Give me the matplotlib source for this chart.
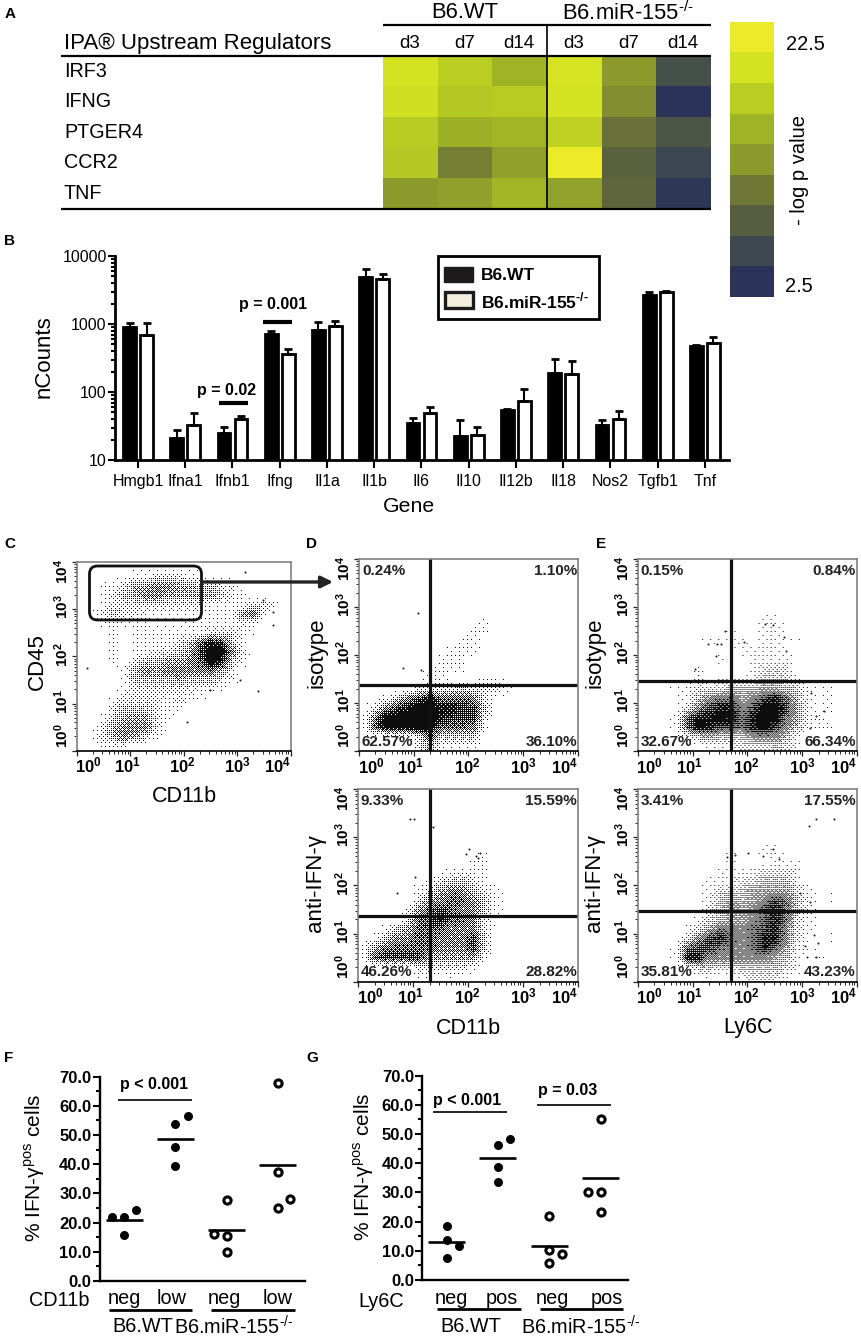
#!/usr/bin/env python3
"""Multi panel figure: IPA heatmap, nCounts bars, flow plots, IFN-gamma dot plots"""

import numpy as np
import matplotlib
matplotlib.use("Agg")
import matplotlib.pyplot as plt
from matplotlib.colors import LinearSegmentedColormap
from matplotlib.patches import FancyBboxPatch, Rectangle

plt.rcParams['font.family'] = ['Liberation Sans', 'DejaVu Sans']
plt.rcParams['mathtext.fontset'] = 'custom'
plt.rcParams['mathtext.rm'] = 'Liberation Sans'
plt.rcParams['mathtext.bf'] = 'Liberation Sans:bold'

W, H = 862, 1339

# --- panel A
regulators = ["IRF3", "IFNG", "PTGER4", "CCR2", "TNF"]
days = ["d3", "d7", "d14", "d3", "d7", "d14"]
irf3 = [20.0, 17.5, 15.1, 20.3, 12.5, 6.0]
ifng = [19.7, 17.0, 17.4, 20.0, 11.7, 2.6]
ptger4 = [17.3, 14.8, 15.3, 18.2, 9.6, 6.6]
ccr2 = [17.0, 10.7, 13.2, 22.5, 8.0, 4.8]
tnf = [12.5, 13.2, 15.3, 13.3, 8.3, 3.1]
scale_values = [22.5, 20.0, 17.5, 15.0, 12.5, 10.0, 7.5, 5.0, 2.5]
scale_colors = ["#2c335a", "#3d4850", "#575e41", "#6f7637", "#8c9a2c",
                "#9eb326", "#bacd22", "#d3e221", "#ebeb2a"]

# --- panel B
genes = ["Hmgb1", "Ifna1", "Ifnb1", "Ifng", "Il1a", "Il1b", "Il6", "Il10",
         "Il12b", "Il18", "Nos2", "Tgfb1", "Tnf"]
wt_counts = [912, 20.8, 25.2, 721, 807, 4900, 35, 22.3, 55, 188, 33, 2700, 474]
wt_upper = [1035, 27.6, 30.5, 789, 1082, 6516, 41.5, 38.3, 56.5, 305, 38.3, 2985, 490]
ko_counts = [689, 32.7, 39.6, 358, 924, 4642, 49, 23.6, 73.8, 182, 40, 2953, 525]
ko_upper = [1035, 48.5, 44.9, 429, 1096, 5433, 59.5, 30.5, 109, 286, 52.7, 3020, 645]

# --- flow panels: dot density read per 0.2 decade cell (top row first, 0 empty, 9 solid)
density_c = [
    "00000000000000000000",
    "00000112221100000000",
    "00112445544332100000",
    "00123455444443210000",
    "00122222222211112310",
    "01232211111111146100",
    "00111110001111121000",
    "00010111111122211000",
    "00010111123687310000",
    "00010112234799520000",
    "00010233445698310000",
    "00001454555564200000",
    "00001333343332100000",
    "00001222222111000000",
    "00012222121100000000",
    "00023332110000000000",
    "00134442100000000000",
    "00245552000000000000",
    "01245421000000000000",
    "00111000000000000000",
]
density_d_iso = [
    "00000000000000000000",
    "00000000000000000000",
    "00000000000000000000",
    "00000000000000000000",
    "00000000000000000000",
    "00000000000000000000",
    "00000000000100000000",
    "00000000001100000000",
    "00000000011000000000",
    "00000000111000000000",
    "00000001110000000000",
    "00000011110000000000",
    "00000011000110000000",
    "00000122232221000000",
    "00135786665200000000",
    "02578998877300000000",
    "15999998777200000000",
    "17999996665100000000",
    "00000363333000000000",
    "00000241111000000000",
]
density_e_iso = [
    "00000000000000000000",
    "00000000000000000000",
    "00000000000000000000",
    "00000000000000000000",
    "00000000000000000000",
    "00000000000000000000",
    "00000000000110000000",
    "00000000100110000000",
    "00000011010110100000",
    "00000000011110000000",
    "00000001001111000000",
    "00000100001222000000",
    "00000101111332100000",
    "00011222333443210100",
    "00001356645786310100",
    "00002578857997410100",
    "00016889868996411000",
    "00016987768975311100",
    "00001343335553100000",
    "00000011122232100000",
]
density_d_ifn = [
    "00000000000000000000",
    "00000000000000000000",
    "00000000000000000000",
    "00000000000000000000",
    "00000000000000000000",
    "00000000000000000000",
    "00000000000100000000",
    "00000000001100000000",
    "00000000111100000000",
    "00000012332100000000",
    "00000124553210000000",
    "00000245665310000000",
    "00001467655310000000",
    "00002678665210000000",
    "00134666555200000000",
    "01355665557300000000",
    "14666665557300000000",
    "16777744444100000000",
    "00000222221000000000",
    "00000110100000000000",
]
density_e_ifn = [
    "00000000000000000000",
    "00000000000000000000",
    "00000000000000000000",
    "00000000000000000000",
    "00000000000000000000",
    "00000000000000000000",
    "00000000100110000000",
    "00000000100010100000",
    "00000001011222100000",
    "00000011122333100000",
    "00000012234444210000",
    "00000013434576310100",
    "00000023545786310000",
    "00000123445686210000",
    "00001246556785210000",
    "00002578656885200100",
    "00016776556864110000",
    "00018855555543101000",
    "00001332233332100000",
    "00000010112221000000",
]

# isolated events, log10 units
stray_c_x = [0.19, 3.05, 3.38, 2.06, 3.66, 3.66, 3.15, 2.49, 3.49]
stray_c_y = [1.75, 1.50, 1.27, 0.60, 2.93, 2.67, 3.79, 1.29, 3.19]
stray_d_iso_x = [1.08, 0.81, 1.14]
stray_d_iso_y = [2.87, 1.73, 1.69]
stray_e_iso_x = [1.59, 1.29, 1.44, 1.52, 1.43, 1.05, 2.66, 2.70, 1.93, 3.17, 3.39, 3.26, 3.14, 2.32, 2.46]
stray_e_iso_y = [2.51, 2.23, 2.23, 2.23, 1.97, 1.70, 2.37, 2.09, 2.28, 1.20, 0.83, 0.72, 0.47, 2.65, 2.63]
stray_d_ifn_x = [0.95, 1.02, 1.37, 1.96, 2.02, 2.15, 2.21, 2.19, 0.70, 1.03]
stray_d_ifn_y = [3.38, 3.38, 3.22, 2.66, 2.75, 2.61, 2.68, 2.56, 1.84, 2.18]
stray_e_ifn_x = [3.26, 3.58, 3.13, 2.47, 2.57, 1.78, 2.02, 2.29, 1.62, 3.22, 3.29, 3.05, 3.08, 3.26, 3.14, 2.96]
stray_e_ifn_y = [3.38, 3.38, 3.24, 2.75, 2.54, 2.64, 2.68, 2.61, 2.59, 0.96, 0.80, 0.75, 0.52, 0.52, 1.65, 1.85]

# --- panels F and G
f_wt_neg = [22.0, 22.0, 24.3, 15.6]
f_wt_low = [53.8, 56.5, 46.0, 39.3]
f_ko_neg = [27.9, 16.0, 15.5, 10.0]
f_ko_low = [67.8, 37.5, 28.1, 25.1]
f_means = [20.9, 48.8, 17.4, 39.6]
f_swarm = [[-0.24, 0, 0.24, 0], [0, 0.24, 0, 0], [0, -0.24, 0, 0], [0, 0, 0.24, 0]]

g_wt_neg = [18.6, 13.7, 11.8, 7.7]
g_wt_pos = [46.4, 48.2, 38.8, 33.6]
g_ko_neg = [21.9, 10.3, 8.9, 5.7]
g_ko_pos = [55.2, 30.1, 30.1, 23.4]
g_means = [12.9, 41.8, 11.6, 34.8]
g_swarm = [[0, 0, 0.24, 0], [0, 0.24, 0, 0], [0, 0, 0.24, 0], [0, -0.24, 0, 0]]

# ordered dither, turns a density read above into fine dots when shown
BAYER = np.array([[0, 32, 8, 40, 2, 34, 10, 42],
                  [48, 16, 56, 24, 50, 18, 58, 26],
                  [12, 44, 4, 36, 14, 46, 6, 38],
                  [60, 28, 52, 20, 62, 30, 54, 22],
                  [3, 35, 11, 43, 1, 33, 9, 41],
                  [51, 19, 59, 27, 49, 17, 57, 25],
                  [15, 47, 7, 39, 13, 45, 5, 37],
                  [63, 31, 55, 23, 61, 29, 53, 21]]) / 64.0 + 1 / 128.0


def ax_px(fig, x0, y0, x1, y1):
    # axes from pixel box, y counted from the top of the picture
    return fig.add_axes([x0 / W, 1 - y1 / H, (x1 - x0) / W, (y1 - y0) / H])


fig = plt.figure(figsize=(W / 100, H / 100), dpi=100, facecolor='white')

canvas = fig.add_axes([0, 0, 1, 1], zorder=10)
canvas.set_xlim(0, W)
canvas.set_ylim(H, 0)
canvas.axis('off')
canvas.patch.set_alpha(0)


def put(x, y, s, size=12, ha='center', va='center', **kw):
    canvas.text(x, y, s, fontsize=size, ha=ha, va=va, **kw)


def hline(x0, x1, y, lw=2.0, color='black'):
    canvas.plot([x0, x1], [y, y], color=color, lw=lw, solid_capstyle='butt')


for letter, lx, ly in [("A", 10, 14), ("B", 10, 241), ("C", 10, 544), ("D", 312, 544),
                       ("E", 601, 544), ("F", 9, 1058), ("G", 312, 1058)]:
    put(lx, ly, letter, size=11, fontweight='bold')

# ---------- A: heatmap
heat_cmap = LinearSegmentedColormap.from_list("heat", scale_colors)
ax = ax_px(fig, 383, 56, 711, 208)
ax.imshow(np.array([irf3, ifng, ptger4, ccr2, tnf]), cmap=heat_cmap, vmin=2.5, vmax=22.5,
          aspect='auto', interpolation='nearest')
ax.axis('off')
for i, day in enumerate(days):
    put(409.6 + 54.7 * i, 44, day, size=13.5)
for i, reg in enumerate(regulators):
    put(64, 71.5 + 30.4 * i, reg, size=14.2, ha='left')
put(64, 43, "IPA® Upstream Regulators", size=16, ha='left')
put(464.5, 13, "B6.WT", size=15.8)
put(628, 13, "B6.miR-155$^{\\mathregular{\u2010/\u2010}}$", size=15.8)
hline(383, 711, 24.5, lw=1.6)
hline(61, 711, 55.5, lw=1.6)
hline(61, 711, 208.5, lw=1.6)
canvas.plot([547, 547], [25, 208], color='black', lw=1.2)

ax = ax_px(fig, 729.5, 22, 773, 297)
ax.imshow(np.array(scale_values).reshape(-1, 1), cmap=heat_cmap, vmin=2.5, vmax=22.5,
          aspect='auto', interpolation='nearest')
ax.axis('off')
put(786, 45, "22.5", size=14.4, ha='left')
put(785, 287, "2.5", size=14.4, ha='left')
put(800, 170, "- log p value", size=14.5, rotation=90)

# ---------- B: bars
ax = ax_px(fig, 115, 256, 729, 460)
pos = np.arange(len(genes))
wt_err = [np.zeros(len(genes)), np.array(wt_upper) - np.array(wt_counts)]
ko_err = [np.zeros(len(genes)), np.array(ko_upper) - np.array(ko_counts)]
ax.bar(pos - 0.18, wt_counts, 0.27, color='black', edgecolor='black', linewidth=2,
       yerr=wt_err, ecolor='black', capsize=3.2, error_kw=dict(elinewidth=1.5, capthick=2))
ax.bar(pos + 0.18, ko_counts, 0.27, color='white', edgecolor='black', linewidth=2,
       yerr=ko_err, ecolor='black', capsize=3.2, error_kw=dict(elinewidth=1.5, capthick=2))
ax.set_yscale('log')
ax.set_ylim(10, 10000)
ax.set_xlim(-0.487, 12.51)
ax.set_xticks(pos)
ax.set_xticklabels(genes, fontsize=11.5)
ax.set_yticks([10, 100, 1000, 10000])
ax.set_yticklabels(["10", "100", "1000", "10000"], fontsize=11.5)
ax.tick_params(axis='x', length=6, width=1.5, pad=4)
ax.tick_params(axis='y', which='major', length=5, width=1.5, pad=1)
ax.tick_params(axis='y', which='minor', length=3, width=1.5)
for side in ['top', 'right']:
    ax.spines[side].set_visible(False)
for side in ['left', 'bottom']:
    ax.spines[side].set_linewidth(2)
put(44.5, 357, "nCounts", size=16, rotation=90)
put(408.6, 507, "Gene", size=15.3)
put(272.7, 305, "p = 0.001", size=11.5, fontweight='bold')
hline(263.5, 292.5, 321.7, lw=3)
put(226.8, 390, "p = 0.02", size=11.5, fontweight='bold')
hline(219.5, 248.4, 403, lw=3)

canvas.add_patch(Rectangle((438.5, 256), 160.5, 63, fc='white', ec='black', lw=2))
canvas.add_patch(Rectangle((444, 267), 29, 15, fc='#1c1a1b', ec='#1c1a1b', lw=1))
canvas.add_patch(Rectangle((445, 292), 28, 16, fc='#f2efdf', ec='#1c1a1b', lw=2.4))
put(481, 275, "B6.WT", size=12.5, ha='left', fontweight='bold')
put(481, 301, "B6.miR-155$^{\\mathbf{\u2010/\u2010}}$", size=12.5, ha='left', fontweight='bold')


# ---------- C, D, E: flow plots
def decade_ticks():
    return [np.log10(k * 10.0 ** d) for d in range(4) for k in range(2, 10)]


def stipple(density, nx, ny):
    # resample the read density to screen pixels, then dither to black and white
    grid = np.array([[int(c) for c in row] for row in density], dtype=float)
    cx = (np.arange(grid.shape[1]) + 0.5) / grid.shape[1]
    cy = (np.arange(grid.shape[0]) + 0.5) / grid.shape[0]
    px = (np.arange(nx) + 0.5) / nx
    py = (np.arange(ny) + 0.5) / ny
    rows = np.array([np.interp(px, cx, r) for r in grid])
    fine = np.array([np.interp(py, cy, c) for c in rows.T]).T
    level = np.clip(fine / 8.5, 0, 1) ** 1.45
    tile = np.tile(BAYER, (ny // 8 + 1, nx // 8 + 1))[:ny, :nx]
    return level > tile


def flow_panel(box, density, stray_x, stray_y, gate_x=None, gate_y=None, percents=None):
    x0, y0, x1, y1 = box
    ax = ax_px(fig, x0, y0, x1, y1)
    dots = stipple(density, int(round(x1 - x0)), int(round(y1 - y0)))
    ax.imshow(dots, extent=[0, 4, 0, 4], cmap='Greys', vmin=0, vmax=1.05, aspect='auto',
              interpolation='antialiased', origin='upper')
    ax.scatter(stray_x, stray_y, s=2.2, color='#222222', linewidths=0)
    ax.set_xlim(0, 4)
    ax.set_ylim(0, 4)
    ax.set_xticks(range(5))
    ax.set_yticks(range(5))
    ax.set_xticks(decade_ticks(), minor=True)
    ax.set_yticks(decade_ticks(), minor=True)
    ax.set_xticklabels([])
    ax.set_yticklabels([])
    ax.tick_params(which='major', length=3.5, width=0.9, color='#222222')
    ax.tick_params(which='minor', length=2, width=0.7, color='#222222')
    for side in ['top', 'right', 'left']:
        ax.spines[side].set_color('#808080')
        ax.spines[side].set_linewidth(1.2)
    ax.spines['bottom'].set_linewidth(1.2)
    if gate_x is not None:
        ax.axvline(gate_x, color='#111111', lw=2.3)
        ax.axhline(gate_y, color='#111111', lw=2.3)
    # decade labels sit a little inside at both ends of the axis
    w = (x1 - x0) / 4.0
    h = (y1 - y0) / 4.0
    for d, off in enumerate([12, -3, -1, 0, -13]):
        put(x0 + d * w + off, y1 + 15, "$\\mathbf{10^{%d}}$" % d, size=12)
    for d, off in enumerate([15, 2, 2, 2, -10]):
        put(x0 - 15, y1 - d * h - off, "$\\mathbf{10^{%d}}$" % d, size=11, rotation=90)
    if percents:
        ul, ur, ll, lr = percents
        put(x0 + 3, y0 + 12, ul, size=11, ha='left', fontweight='bold', color='#222222')
        put(x1 - 1, y0 + 12, ur, size=11, ha='right', fontweight='bold', color='#222222')
        put(x0 + 3, y1 - 9.5, ll, size=11, ha='left', fontweight='bold', color='#222222')
        put(x1 - 1, y1 - 9.5, lr, size=11, ha='right', fontweight='bold', color='#222222')


flow_panel((76.7, 562, 290.7, 750.7), density_c, stray_c_x, stray_c_y)
flow_panel((359, 559, 578, 751), density_d_iso, stray_d_iso_x, stray_d_iso_y, 1.30, 1.38,
           ["0.24%", "1.10%", "62.57%", "36.10%"])
flow_panel((637.7, 559, 857, 751), density_e_iso, stray_e_iso_x, stray_e_iso_y, 1.70, 1.46,
           ["0.15%", "0.84%", "32.67%", "66.34%"])
flow_panel((358, 789, 578, 981.7), density_d_ifn, stray_d_ifn_x, stray_d_ifn_y, 1.30, 1.37,
           ["9.33%", "15.59%", "46.26%", "28.82%"])
flow_panel((637.7, 789, 857, 981.7), density_e_ifn, stray_e_ifn_x, stray_e_ifn_y, 1.70, 1.46,
           ["3.41%", "17.55%", "35.81%", "43.23%"])

put(37, 662, "CD45", size=16, rotation=90)
put(184, 797, "CD11b", size=15.5)
put(317, 653, "isotype", size=16, rotation=90)
put(595, 653, "isotype", size=16, rotation=90)
put(315.5, 883, "anti-IFN-γ", size=16, rotation=90)
put(595, 883, "anti-IFN-γ", size=16, rotation=90)
put(468, 1028, "CD11b", size=15.5)
put(748, 1028, "Ly6C", size=15.5)

canvas.add_patch(FancyBboxPatch((89.5, 566), 112, 54, boxstyle='round,pad=0,rounding_size=8',
                                fc='none', ec='#111111', lw=2))
canvas.annotate('', xy=(333, 582), xytext=(202, 582),
                arrowprops=dict(arrowstyle='-|>,head_width=0.35,head_length=0.7', lw=2.4,
                                color='#222222', shrinkA=0, shrinkB=0))


# ---------- F, G: dot plots
def dot_panel(box, groups, means, swarm):
    ax = ax_px(fig, *box)
    for i, vals in enumerate(groups):
        xs = i + np.array(swarm[i])
        if i < 2:
            ax.scatter(xs, vals, s=42, color='black', linewidths=0, zorder=3)
        else:
            ax.scatter(xs, vals, s=27, facecolors='white', edgecolors='black', linewidths=2.2, zorder=3)
        ax.plot([i - 0.36, i + 0.36], [means[i], means[i]], color='black', lw=1.9,
                solid_capstyle='butt', zorder=4)
    ax.set_xlim(-0.475, 3.53)
    ax.set_ylim(0, 70)
    ax.set_xticks([])
    ax.set_yticks(np.arange(0, 71, 10))
    ax.set_yticks(np.arange(5, 70, 10), minor=True)
    ax.set_yticklabels(["%.1f" % v for v in np.arange(0, 71, 10)], fontsize=12, fontweight='bold')
    ax.tick_params(axis='y', which='major', length=5, width=1.5, pad=1)
    ax.tick_params(axis='y', which='minor', length=3, width=1.5)
    for side in ['top', 'right']:
        ax.spines[side].set_visible(False)
    for side in ['left', 'bottom']:
        ax.spines[side].set_linewidth(1.7)


dot_panel((99.7, 1076.7, 305, 1281), [f_wt_neg, f_wt_low, f_ko_neg, f_ko_low], f_means, f_swarm)
dot_panel((422.3, 1075.7, 627.7, 1280), [g_wt_neg, g_wt_pos, g_ko_neg, g_ko_pos], g_means, g_swarm)

ylab = "% IFN-γ$^{\\mathregular{pos}}$ cells"
ko_label = "B6.miR-155$^{\\mathregular{\u2010/\u2010}}$"
put(35, 1168, ylab, size=15, rotation=90)
put(364, 1167, ylab, size=15, rotation=90)

put(154, 1085, "p < 0.001", size=11.5, fontweight='bold')
hline(118, 192, 1099.7, lw=1.2)
put(466.7, 1100.7, "p < 0.001", size=11.5, fontweight='bold')
hline(433, 506.7, 1112, lw=1.2)
put(568, 1090.7, "p = 0.03", size=11.5, fontweight='bold')
hline(537, 610.7, 1104.7, lw=1.2)

put(59, 1300.7, "CD11b", size=14.3)
for x, s in zip([124, 172, 224, 278], ["neg", "low", "neg", "low"]):
    put(x, 1298, s, size=14.3)
hline(109, 192, 1310, lw=2)
hline(211, 295, 1310, lw=2)
put(143, 1327, "B6.WT", size=14.3)
put(234, 1327, ko_label, size=14.3)

put(380.7, 1301.7, "Ly6C", size=14.3)
for x, s in zip([451.7, 502.3, 552, 607], ["neg", "pos", "neg", "pos"]):
    put(x, 1298, s, size=14.3)
hline(437, 520.7, 1308.7, lw=2)
hline(540, 622.7, 1308.7, lw=2)
put(470.7, 1326.7, "B6.WT", size=14.3)
put(581, 1326.7, ko_label, size=14.3)

fig.savefig("out.png", dpi=100)
